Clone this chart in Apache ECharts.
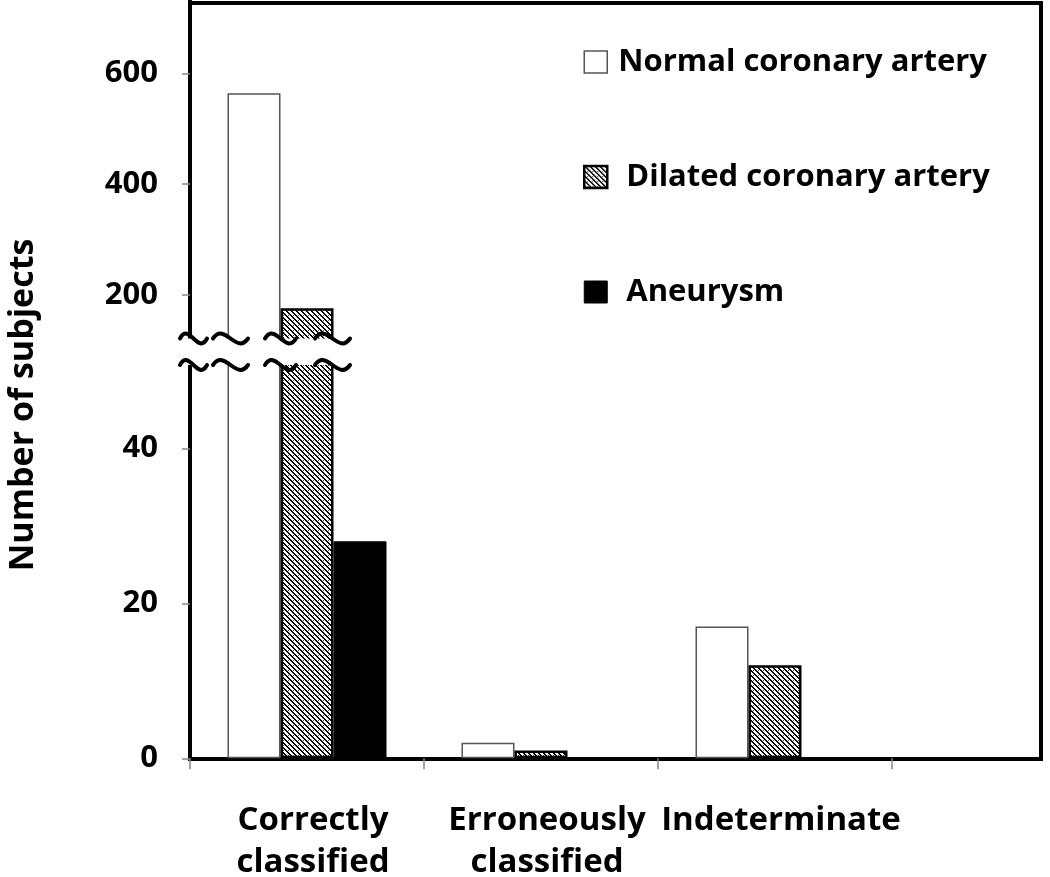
<!DOCTYPE html>
<html><head><meta charset="utf-8">
<script src="https://cdn.jsdelivr.net/npm/echarts@6/dist/echarts.min.js"></script>
<style>html,body{margin:0;padding:0;background:#fff}#c{width:1050px;height:877px}</style>
</head><body><div id="c"></div>
<script>
// ---- data ----
const categories = ['Correctly\nclassified', 'Erroneously\nclassified', 'Indeterminate'];
const seriesNames = ['Normal coronary artery', 'Dilated coronary artery', 'Aneurysm'];
const normalValues = [564, 2, 17];
const dilatedValues = [176, 1, 12];
const aneurysmValues = [28, 0, 0];
const upperTicks = [200, 400, 600];
const lowerTicks = [0, 20, 40];
const axisTitle = 'Number of subjects';

// ---- styles ----
function makeHatch() {
  const s = 5, c = document.createElement('canvas');
  c.width = s; c.height = s;
  const ctx = c.getContext('2d');
  ctx.fillStyle = '#fff'; ctx.fillRect(0, 0, s, s);
  ctx.fillStyle = '#000';
  for (let y = 0; y < s; y++) for (let x = 0; x < s; x++) {
    const d = (((x - y) % s) + s) % s;
    if (d < 2) ctx.fillRect(x, y, 1, 1);
  }
  ctx.fillStyle = '#444';
  ctx.fillRect(3, 0, 1, 1);
  return c;
}
const hatch = { image: makeHatch(), repeat: 'repeat' };
const styles = [
  { color: '#fff', borderColor: '#555', borderWidth: 1.5 },
  { color: hatch, borderColor: '#000', borderWidth: 2.5 },
  { color: '#000', borderColor: '#000', borderWidth: 1 }
];
const valuesList = [normalValues, dilatedValues, aneurysmValues];
const FONT = 'Open Sans';

const series = [];
[0, 1].forEach(g => {
  valuesList.forEach((vals, i) => {
    series.push({
      type: 'bar', name: seriesNames[i], xAxisIndex: g, yAxisIndex: g,
      data: vals, barWidth: 53, barGap: '0%', clip: true,
      itemStyle: styles[i], emphasis: { disabled: true }
    });
  });
});

const yLabel = { fontFamily: FONT, fontWeight: 'bold', fontSize: 31, color: '#000', margin: 32 };
const yTick = { show: true, length: 8, lineStyle: { color: '#888', width: 1.5 } };
const blackLine = { show: true, lineStyle: { color: '#000', width: 4 } };

// break decoration
const tildeX = [[180, 207], [213, 248], [265, 296], [315, 350]];
const waveY = [338.5, 365];
const amp = 8.5;
const graphics = [
  { type: 'rect', z: 100, shape: { x: 176, y: waveY[0], width: 178, height: waveY[1] - waveY[0] }, style: { fill: '#fff' } }
];
waveY.forEach(yc => tildeX.forEach(([a, b]) => {
  const w = b - a;
  graphics.push({
    type: 'bezierCurve', z: 101,
    shape: { x1: a, y1: yc, cpx1: a + w / 3, cpy1: yc - 2 * amp, cpx2: a + 2 * w / 3, cpy2: yc + 2 * amp, x2: b, y2: yc },
    style: { stroke: '#000', lineWidth: 4, fill: null, lineCap: 'round' }
  });
}));
graphics.push({
  type: 'text', z: 101, x: 23, y: 405, rotation: Math.PI / 2,
  style: { text: axisTitle, font: 'bold 34px "' + FONT + '"', fill: '#000', align: 'center', verticalAlign: 'middle' }
});

const chart = echarts.init(document.getElementById('c'));
chart.setOption({
  animation: false,
  backgroundColor: '#fff',
  grid: [
    { left: 190, top: 1.3, width: 702, height: 349.1, outerBoundsMode: 'none', containLabel: false },
    { left: 190, top: 355.3, width: 702, height: 403, outerBoundsMode: 'none', containLabel: false },
    { left: 190, top: 3, right: 9, height: 756, outerBoundsMode: 'none', containLabel: false,
      show: true, borderColor: '#000', borderWidth: 4, backgroundColor: 'transparent' }
  ],
  xAxis: [
    { gridIndex: 0, type: 'category', data: categories, show: false },
    { gridIndex: 1, type: 'category', data: categories,
      axisLine: blackLine,
      axisTick: { show: true, length: 11, lineStyle: { color: '#888', width: 1.5 } },
      axisLabel: { interval: 0, fontFamily: FONT, fontWeight: 'bold', fontSize: 33, lineHeight: 42, color: '#000', margin: 41, padding: [0, 0, 0, 12] } },
    { gridIndex: 2, type: 'value', show: false, min: 0, max: 1 }
  ],
  yAxis: [
    { gridIndex: 0, type: 'value', min: 100, max: 730, splitLine: { show: false },
      axisLine: blackLine, axisTick: Object.assign({ customValues: upperTicks }, yTick),
      axisLabel: Object.assign({ customValues: upperTicks }, yLabel) },
    { gridIndex: 1, type: 'value', min: 0, max: 52, splitLine: { show: false },
      axisLine: blackLine, axisTick: Object.assign({ customValues: lowerTicks }, yTick),
      axisLabel: Object.assign({ customValues: lowerTicks }, yLabel) },
    { gridIndex: 2, type: 'value', show: false, min: 0, max: 1 }
  ],
  legend: {
    orient: 'vertical', left: 578, top: 41.5, itemWidth: 23, itemHeight: 22, itemGap: 84,
    selectedMode: false, icon: 'rect',
    textStyle: { fontFamily: FONT, fontWeight: 'bold', fontSize: 31, color: '#000', lineHeight: 31 },
    data: seriesNames.map((n, i) => ({ name: n, itemStyle: styles[i], textStyle: { padding: [0, 0, 0, i === 0 ? 6 : 14] } }))
  },
  graphic: graphics,
  series: series
});
</script></body></html>
